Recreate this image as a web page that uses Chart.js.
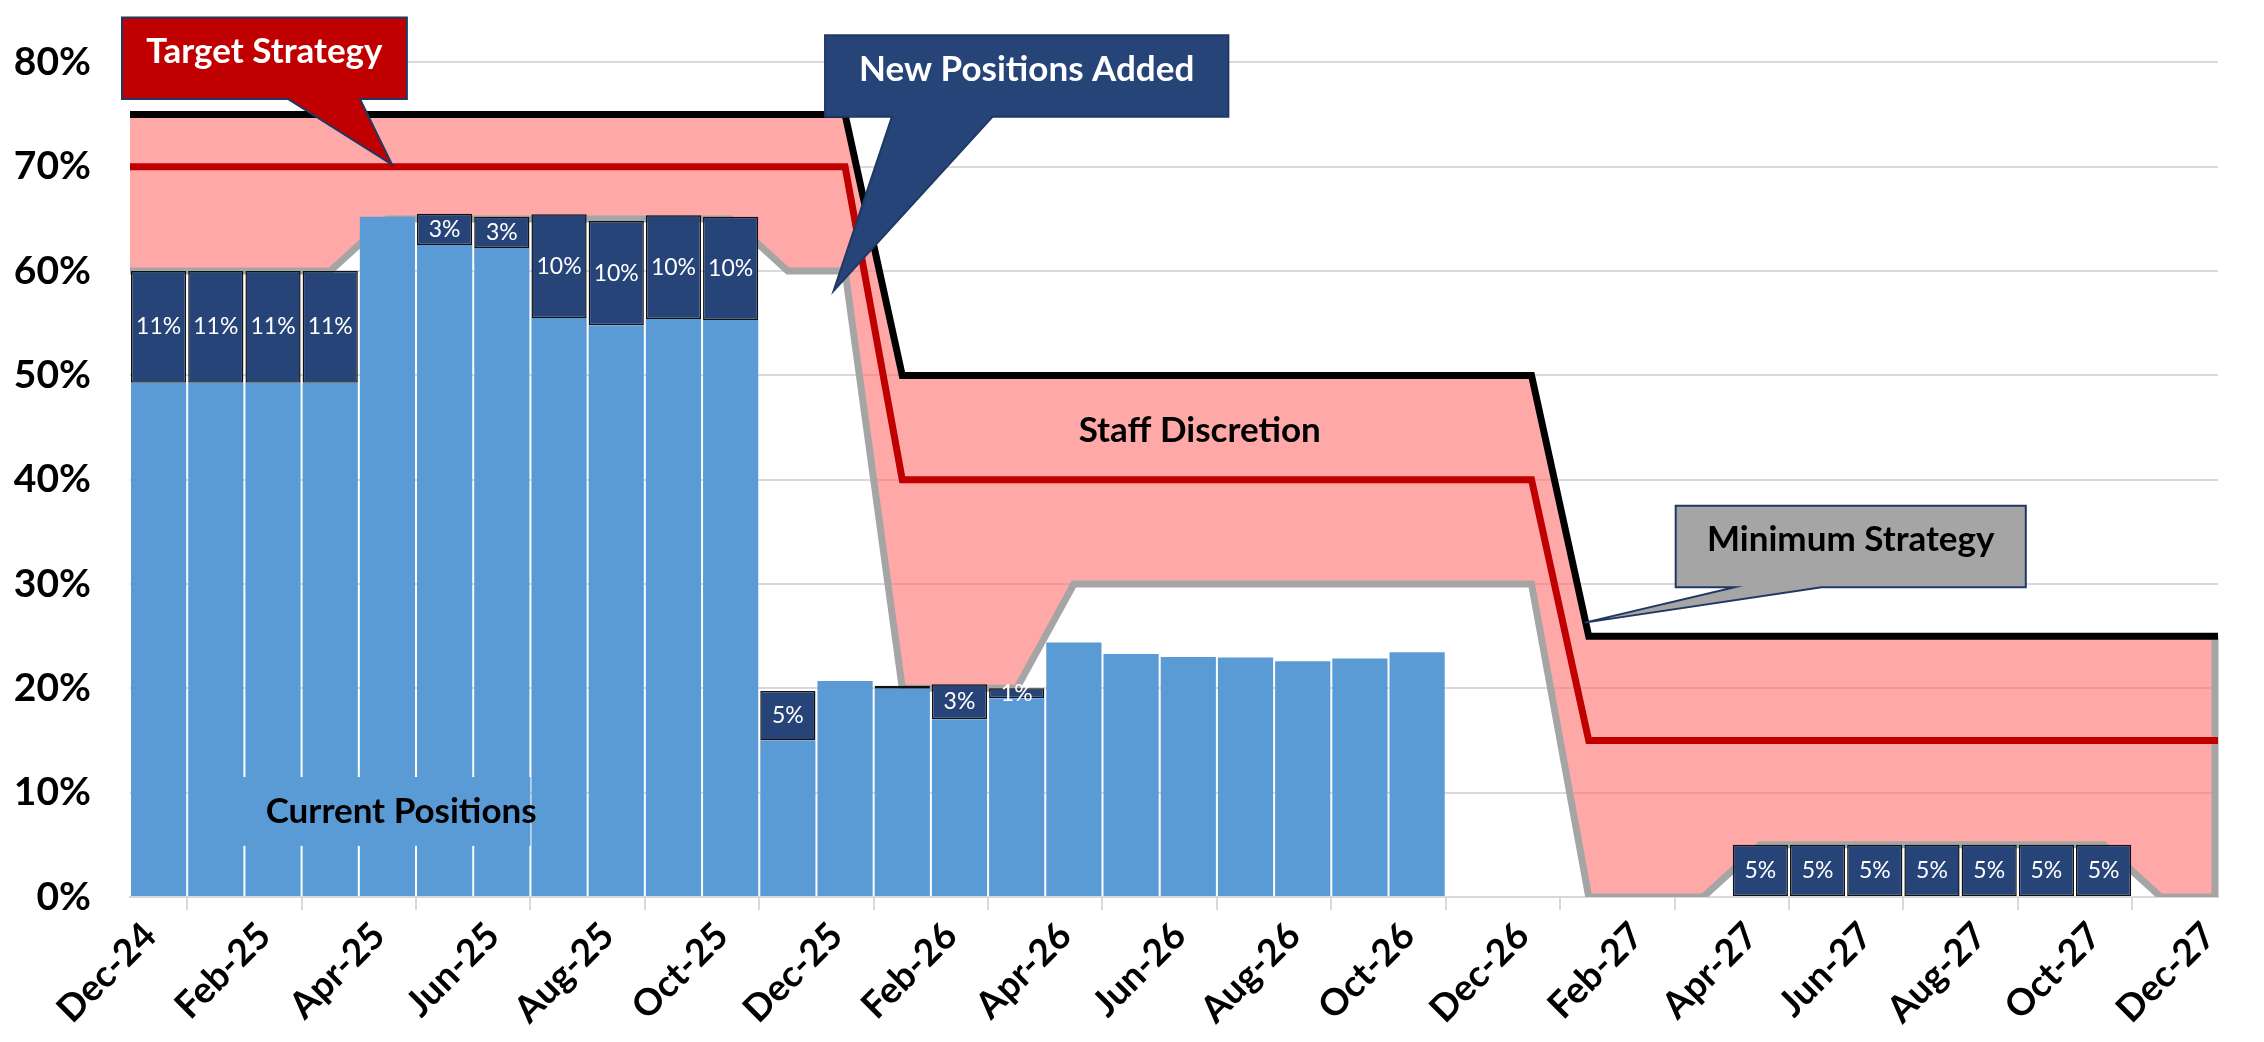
<!DOCTYPE html>
<html>
<head>
<meta charset="utf-8">
<title>Positions vs strategy</title>
<script src="https://cdn.jsdelivr.net/npm/chart.js@4.4.1/dist/chart.umd.min.js"></script>
<style>
  body { margin: 0; background: #fff; }
</style>
</head>
<body>
<canvas id="myChart" width="2264" height="1042"></canvas>
<script>
// month labels, Dec-24 .. Dec-27
const months = ['Dec-24','Jan-25','Feb-25','Mar-25','Apr-25','May-25','Jun-25','Jul-25','Aug-25','Sep-25','Oct-25','Nov-25',
  'Dec-25','Jan-26','Feb-26','Mar-26','Apr-26','May-26','Jun-26','Jul-26','Aug-26','Sep-26','Oct-26','Nov-26',
  'Dec-26','Jan-27','Feb-27','Mar-27','Apr-27','May-27','Jun-27','Jul-27','Aug-27','Sep-27','Oct-27','Nov-27','Dec-27'];

// current positions (light bars)
const currentPositions = [49.3, 49.3, 49.3, 49.3, 65.2, 62.5, 62.2, 55.5, 54.8, 55.4, 55.3, 15.0,
  20.7, 19.95, 17.05, 19.05, 24.4, 23.3, 23.0, 22.95, 22.6, 22.85, 23.45, null,
  null, null, null, null, null, null, null, null, null, null, null, null, null];

// new positions added (dark bars, stacked on top)
const newPositions = [10.7, 10.7, 10.7, 10.7, null, 3.0, 3.0, 9.95, 10.0, 9.95, 9.9, 4.75,
  null, 0.3, 3.35, 0.95, null, null, null, null, null, null, null, null,
  null, null, null, null, 5, 5, 5, 5, 5, 5, 5, null, null];

// strategy bands
const maxStrategy = [75, 75, 75, 75, 75, 75, 75, 75, 75, 75, 75, 75, 75,
  50, 50, 50, 50, 50, 50, 50, 50, 50, 50, 50, 50,
  25, 25, 25, 25, 25, 25, 25, 25, 25, 25, 25, 25];
const targetStrategy = [70, 70, 70, 70, 70, 70, 70, 70, 70, 70, 70, 70, 70,
  40, 40, 40, 40, 40, 40, 40, 40, 40, 40, 40, 40,
  15, 15, 15, 15, 15, 15, 15, 15, 15, 15, 15, 15];
const minStrategy = [60, 60, 60, 60, 65, 65, 65, 65, 65, 65, 65, 60, 60,
  20, 20, 20, 30, 30, 30, 30, 30, 30, 30, 30, 30,
  0, 0, 0, 5, 5, 5, 5, 5, 5, 5, 0, 0];

const yTicks = [0, 10, 20, 30, 40, 50, 60, 70, 80];

// callouts, in (month, percent) units
const callouts = [
  {text: 'Target Strategy', fill: '#C00000', color: '#fff', box: [-0.14, 84.3, 4.84, 76.5], base: [2.76, 4.02], tip: [4.58, 70.2]},
  {text: 'New Positions Added', fill: '#264478', color: '#fff', box: [12.15, 82.6, 19.2, 74.8], base: [13.32, 15.08], tip: [12.3, 58.1]},
  {text: 'Minimum Strategy', fill: '#A5A5A5', color: '#000', box: [27.02, 37.5, 33.14, 29.7], base: [28.05, 29.57], tip: [25.43, 26.3]}
];

// bars sit in the middle of their month, lines too (plus a start point at the left edge)
const barPoints = vals => vals.map((v, i) => ({x: i + 0.5, y: v}));
const linePoints = vals => [{x: 0, y: vals[0]}].concat(vals.map((v, i) => ({x: i + 0.5, y: v})));

const FONT = 'Lato';

const extrasPlugin = {
  id: 'extras',
  afterDatasetDraw(chart, args) {
    // grey edge closing the band on the right
    if (args.index !== 2) return;
    const {ctx, scales: {x, y}} = chart;
    const last = months.length - 1;
    const px = x.getPixelForValue(last + 0.5);
    ctx.save();
    ctx.strokeStyle = '#A5A5A5';
    ctx.lineWidth = 7;
    ctx.beginPath();
    ctx.moveTo(px - 3, y.getPixelForValue(minStrategy[last]));
    ctx.lineTo(px - 3, y.getPixelForValue(maxStrategy[last]));
    ctx.stroke();
    ctx.restore();
  },
  afterDatasetsDraw(chart) {
    const {ctx, scales: {x, y}} = chart;
    // labels in the dark bars
    const meta = chart.getDatasetMeta(4);
    ctx.save();
    ctx.font = '23px ' + FONT;
    ctx.fillStyle = '#fff';
    ctx.textAlign = 'center';
    ctx.textBaseline = 'middle';
    meta.data.forEach((el, i) => {
      const v = newPositions[i];
      if (v == null || v < 0.5) return;
      ctx.fillText(Math.round(v) + '%', el.x, (el.y + el.base) / 2);
    });
    // "Current Positions" text box
    ctx.fillStyle = '#5B9BD5';
    const bx = x.getPixelForValue(1.96), bx2 = x.getPixelForValue(7.0);
    const by = y.getPixelForValue(11.5), by2 = y.getPixelForValue(4.9);
    ctx.fillRect(bx, by, bx2 - bx, by2 - by);
    ctx.fillStyle = '#000';
    ctx.font = 'bold 35px ' + FONT;
    ctx.fillText('Current Positions', x.getPixelForValue(4.74), y.getPixelForValue(8.2));
    ctx.fillText('Staff Discretion', x.getPixelForValue(18.7), y.getPixelForValue(44.7));
    ctx.restore();
  },
  afterDraw(chart) {
    const {ctx, scales: {x, y}} = chart;
    ctx.save();
    callouts.forEach(c => {
      const l = x.getPixelForValue(c.box[0]), t = y.getPixelForValue(c.box[1]);
      const r = x.getPixelForValue(c.box[2]), b = y.getPixelForValue(c.box[3]);
      ctx.beginPath();
      ctx.moveTo(l, t);
      ctx.lineTo(r, t);
      ctx.lineTo(r, b);
      ctx.lineTo(x.getPixelForValue(c.base[1]), b);
      ctx.lineTo(x.getPixelForValue(c.tip[0]), y.getPixelForValue(c.tip[1]));
      ctx.lineTo(x.getPixelForValue(c.base[0]), b);
      ctx.lineTo(l, b);
      ctx.closePath();
      ctx.fillStyle = c.fill;
      ctx.fill();
      ctx.strokeStyle = '#1F3864';
      ctx.lineWidth = 2;
      ctx.stroke();
      ctx.fillStyle = c.color;
      ctx.font = 'bold 35px ' + FONT;
      ctx.textAlign = 'center';
      ctx.textBaseline = 'middle';
      ctx.fillText(c.text, (l + r) / 2, t + 34);
    });
    ctx.restore();
  }
};

const lineStyle = {
  type: 'line',
  pointRadius: 0,
  borderWidth: 7,
  tension: 0,
  borderCapStyle: 'round',
  borderJoinStyle: 'miter'
};

new Chart(document.getElementById('myChart'), {
  data: {
    datasets: [
      Object.assign({}, lineStyle, {
        label: 'Maximum Strategy',
        data: linePoints(maxStrategy),
        borderColor: '#000',
        fill: false,
        order: 1
      }),
      Object.assign({}, lineStyle, {
        label: 'Target Strategy',
        data: linePoints(targetStrategy),
        borderColor: '#C00000',
        fill: false,
        order: 2
      }),
      Object.assign({}, lineStyle, {
        label: 'Minimum Strategy',
        data: linePoints(minStrategy),
        borderColor: '#A5A5A5',
        backgroundColor: 'rgba(255, 110, 110, 0.6)',
        fill: {target: 0},
        order: 5
      }),
      {
        type: 'bar',
        label: 'Current Positions',
        data: barPoints(currentPositions),
        backgroundColor: '#5B9BD5',
        borderWidth: 0,
        stack: 'pos',
        barPercentage: 0.965,
        categoryPercentage: 1,
        order: 3
      },
      {
        type: 'bar',
        label: 'New Positions Added',
        data: barPoints(newPositions),
        backgroundColor: '#264478',
        borderColor: '#111',
        borderWidth: 1.5,
        borderSkipped: false,
        stack: 'pos',
        barPercentage: 0.965,
        categoryPercentage: 1,
        order: 3
      }
    ]
  },
  options: {
    responsive: false,
    animation: false,
    layout: {padding: {top: 52, right: 46, bottom: 0, left: 0}},
    plugins: {
      legend: {display: false},
      tooltip: {enabled: false}
    },
    scales: {
      x: {
        type: 'linear',
        min: 0,
        max: months.length - 0.5,
        offset: false,
        afterFit: s => { s.height = 145; },
        // a label every second month
        afterBuildTicks: s => {
          s.ticks = months.map((m, i) => i).filter(i => i % 2 === 0).map(i => ({value: i}));
        },
        ticks: {
          autoSkip: false,
          maxRotation: 45,
          minRotation: 45,
          color: '#000',
          padding: 4,
          labelOffset: 20,
          font: {family: FONT, size: 37, weight: 'bold'},
          callback: v => months[v] || ''
        },
        grid: {drawOnChartArea: false, drawTicks: true, tickLength: 13, color: '#D9D9D9', lineWidth: 2},
        border: {color: '#D9D9D9', width: 2}
      },
      y: {
        min: 0,
        max: 80,
        afterFit: s => { s.width = 130; },
        afterBuildTicks: s => { s.ticks = yTicks.map(v => ({value: v})); },
        ticks: {
          color: '#000',
          padding: 39,
          font: {family: FONT, size: 39, weight: 'bold'},
          callback: v => v + '%'
        },
        grid: {color: '#D9D9D9', lineWidth: 2, drawTicks: false},
        border: {display: false}
      }
    }
  },
  plugins: [extrasPlugin]
});
</script>
</body>
</html>
